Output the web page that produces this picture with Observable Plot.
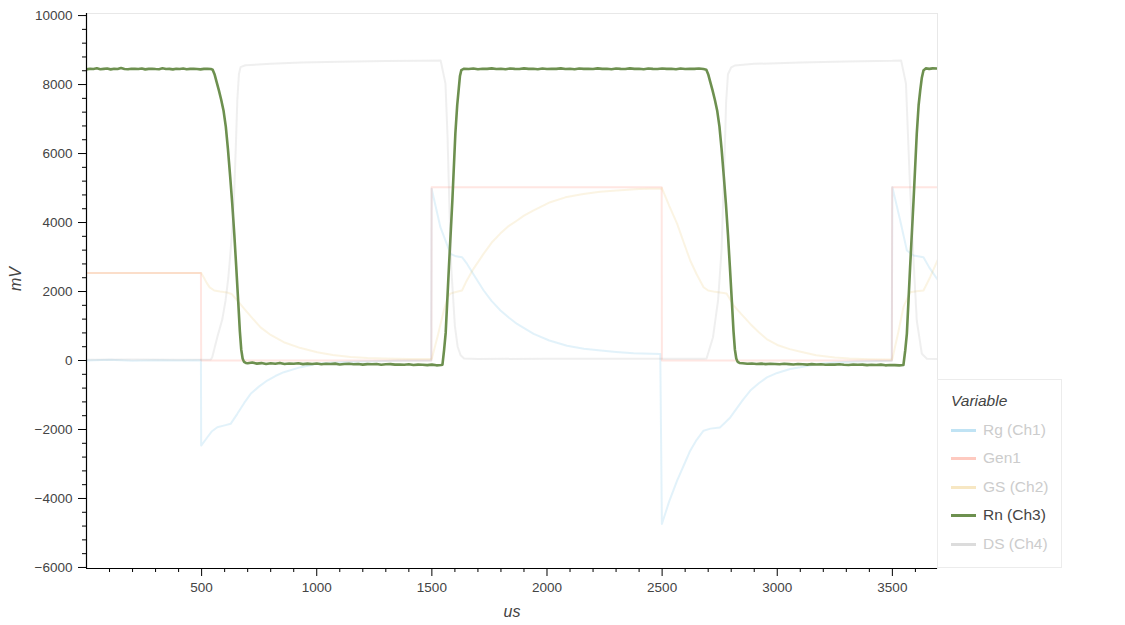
<!DOCTYPE html>
<html>
<head>
<meta charset="utf-8">
<script src="https://cdn.jsdelivr.net/npm/d3@7"></script>
<script src="https://cdn.jsdelivr.net/npm/@observablehq/plot@0.6"></script>
<style>
  html, body { margin: 0; padding: 0; background: #fff; }
  #wrap { position: relative; width: 1125px; height: 625px; font-family: "Liberation Sans", Arial, Helvetica, sans-serif; }
  #legend { position: absolute; left: 937px; top: 379px; width: 125px; height: 189px; border: 1px solid #ececec; background: #fff; box-sizing: border-box; }
  #legend .title { position: absolute; left: 13px; top: 12px; font-style: italic; font-size: 15.5px; color: #444; }
  #legend .row { position: absolute; left: 13px; height: 20px; display: flex; align-items: center; font-size: 15.5px; }
  #legend .sw { width: 25px; height: 0; margin-right: 7px; }
</style>
</head>
<body>
<div id="wrap"></div>
<script>
// ---- data (time in us, value in mV) ----
const seriesNames = ["Rg (Ch1)", "Gen1", "GS (Ch2)", "Rn (Ch3)", "DS (Ch4)"];
const seriesColors = ["#30a2da", "#fc4f30", "#e5ae38", "#6d904f", "#8b8b8b"];
const seriesActive = [false, false, false, true, false];

const xMajorTicks = [500, 1000, 1500, 2000, 2500, 3000, 3500];
const yMajorTicks = [-6000, -4000, -2000, 0, 2000, 4000, 6000, 8000, 10000];

const rg = [[0,0],[100,20],[200,-10],[300,10],[400,0],[497,5],[498,-2465],[525,-2225],[545,-2050],[568,-1934],[600,-1880],[626,-1836],[655,-1546],[685,-1230],[713,-966],[750,-750],[785,-580],[820,-450],[857,-339],[930,-193],[1002,-97],[1070,-60],[1147,-39],[1250,-20],[1350,-10],[1497,0],
  [1499,4980],[1537,3865],[1581,3090],[1605,3020],[1631,2995],[1653,2800],[1690,2400],[1725,2030],[1760,1720],[1798,1450],[1835,1240],[1870,1060],[1942,770],[2010,580],[2087,430],[2160,340],[2234,290],[2300,250],[2376,210],[2492,190],
  [2499,-4740],[2530,-4100],[2565,-3480],[2600,-2950],[2622,-2615],[2650,-2300],[2680,-2035],[2710,-1975],[2751,-1940],[2775,-1790],[2796,-1650],[2810,-1520],[2850,-1150],[2883,-870],[2920,-660],[2955,-490],[3000,-360],[3056,-245],[3100,-195],[3172,-100],[3250,-60],[3350,-30],[3497,-10],
  [3500,5026],[3534,4060],[3563,3190],[3592,3045],[3635,2995],[3660,2700],[3696,2350]];

const gen1 = [[0,2540],[497,2540],[498,0],[1498,0],[1499,5020],[2498,5020],[2499,0],[3498,0],[3499,5020],[3696,5020]];

const gs = [[0,2540],[498,2540],[510,2400],[522,2250],[535,2120],[555,2030],[580,2000],[610,1970],[630,1930],[650,1780],[670,1620],[690,1460],[720,1230],[756,960],[800,740],[857,530],[930,360],[1002,240],[1070,160],[1147,100],[1220,70],[1292,55],[1400,45],[1497,45],
  [1500,60],[1525,700],[1552,1450],[1570,1850],[1580,1940],[1600,1980],[1631,2030],[1650,2300],[1680,2650],[1725,3100],[1760,3420],[1797,3680],[1830,3880],[1870,4060],[1900,4200],[1942,4350],[2014,4590],[2080,4730],[2158,4830],[2230,4890],[2303,4930],[2400,4970],[2497,4990],
  [2499,5000],[2530,4500],[2565,3970],[2595,3400],[2622,2900],[2650,2500],[2680,2125],[2700,2030],[2730,1990],[2751,1970],[2780,1940],[2810,1600],[2850,1300],[2883,1060],[2920,820],[2954,620],[3000,450],[3054,330],[3097,260],[3169,150],[3250,90],[3314,60],[3400,40],[3497,30],
  [3500,50],[3525,800],[3548,1545],[3577,1980],[3605,2010],[3635,2030],[3664,2415],[3696,2900]];

const rn = [[0,8440],[15,8460],[30,8450],[45,8470],[60,8445],[75,8455],[90,8465],[105,8440],[120,8460],[135,8450],[150,8480],[165,8450],[180,8445],[195,8460],[210,8455],[225,8450],[240,8465],[255,8440],[270,8455],[285,8460],[300,8450],[315,8445],[330,8470],[345,8450],[360,8455],[375,8440],[390,8460],[405,8450],[420,8465],[435,8445],[450,8455],[465,8460],[480,8450],[495,8440],[510,8455],[525,8460],[540,8450],
  [548,8430],[556,8300],[565,8080],[575,7830],[585,7560],[595,7250],[605,6780],[614,6150],[624,5330],[633,4550],[642,3650],[650,2750],[659,1700],[666,850],[672,320],[678,60],[684,-40],[692,-70],
  [700,-80],[720,-60],[740,-90],[760,-75],[780,-100],[800,-80],[820,-95],[840,-70],[860,-100],[880,-85],[900,-95],[920,-80],[940,-105],[960,-90],[980,-100],[1000,-85],[1020,-110],[1040,-95],[1060,-100],[1080,-90],[1100,-115],[1120,-100],[1140,-95],[1160,-110],[1180,-100],[1200,-120],[1220,-105],[1240,-110],[1260,-100],[1280,-125],[1300,-110],[1320,-105],[1340,-120],[1360,-115],[1380,-125],[1400,-110],[1420,-130],[1440,-120],[1460,-125],[1480,-135],[1500,-120],[1520,-140],[1540,-130],
  [1546,-120],[1553,300],[1560,800],[1574,2700],[1589,4640],[1602,6580],[1610,7400],[1617,7900],[1622,8250],[1628,8420],[1640,8460],
  [1660,8450],[1680,8465],[1700,8445],[1720,8460],[1740,8455],[1760,8470],[1780,8450],[1800,8460],[1820,8445],[1840,8465],[1860,8455],[1880,8450],[1900,8470],[1920,8455],[1940,8460],[1960,8445],[1980,8465],[2000,8450],[2020,8460],[2040,8455],[2060,8470],[2080,8450],[2100,8460],[2120,8445],[2140,8465],[2160,8455],[2180,8460],[2200,8450],[2220,8470],[2240,8455],[2260,8460],[2280,8445],[2300,8465],[2320,8455],[2340,8450],[2360,8470],[2380,8455],[2400,8460],[2420,8445],[2440,8465],[2460,8455],[2480,8450],[2500,8465],[2520,8455],[2540,8460],[2560,8445],[2580,8465],[2600,8450],[2620,8460],[2640,8455],[2660,8465],[2680,8450],
  [2692,8430],[2700,8300],[2709,8080],[2719,7830],[2729,7560],[2739,7250],[2749,6780],[2758,6150],[2768,5330],[2777,4550],[2786,3650],[2794,2750],[2803,1700],[2810,850],[2816,320],[2822,60],[2828,-40],[2836,-70],
  [2850,-80],[2870,-95],[2890,-85],[2910,-100],[2930,-90],[2950,-105],[2970,-95],[2990,-100],[3010,-110],[3030,-95],[3050,-105],[3070,-115],[3090,-100],[3110,-110],[3130,-120],[3150,-105],[3170,-115],[3190,-110],[3210,-125],[3230,-115],[3250,-120],[3270,-110],[3290,-125],[3310,-130],[3330,-115],[3350,-125],[3370,-120],[3390,-135],[3410,-125],[3430,-130],[3450,-120],[3470,-140],[3490,-130],[3510,-135],[3530,-140],
  [3548,-130],[3556,300],[3563,780],[3577,2700],[3592,4640],[3606,6580],[3614,7400],[3621,7830],[3628,8200],[3635,8410],[3645,8470],[3660,8455],[3675,8470],[3696,8465]];

const ds = [[0,20],[200,30],[400,20],[540,30],[546,95],[568,676],[590,1200],[604,1740],[616,2400],[626,3190],[634,3900],[640,4640],[648,6090],[655,7540],[662,8300],[669,8505],[690,8560],[800,8600],[932,8640],[1100,8660],[1300,8680],[1450,8690],[1538,8700],
  [1559,8030],[1568,6500],[1576,4500],[1584,2700],[1600,1000],[1612,400],[1625,150],[1640,60],[1700,45],[2000,50],[2400,50],[2680,50],
  [2693,60],[2721,676],[2743,1740],[2758,3190],[2765,4640],[2772,6090],[2778,7500],[2786,8300],[2800,8500],[2815,8550],[2900,8600],[3100,8640],[3300,8670],[3500,8690],[3538,8700],
  [3559,8030],[3568,6500],[3577,5000],[3592,2900],[3606,1160],[3628,194],[3650,49],[3696,40]];

const seriesData = [rg, gen1, gs, rn, ds];

// build long table
const table = [];
seriesData.forEach((arr, i) => arr.forEach(([t, v]) => table.push({t, v, s: seriesNames[i]})));

const xMinorTicks = d3.range(100, 3700, 100).filter(d => d % 500 !== 0);
const yMinorTicks = d3.range(-6000, 10001, 400).filter(d => d % 2000 !== 0);

const fmt = d3.format("d");
const font = "'Liberation Sans', Arial, Helvetica, sans-serif";

const lineMarks = seriesNames.map((name, i) =>
  Plot.line(table.filter(d => d.s === name), {
    x: "t", y: "v",
    stroke: seriesColors[i],
    strokeOpacity: seriesActive[i] ? 1 : 0.14,
    strokeWidth: seriesActive[i] ? 2.6 : 2,
    strokeLinejoin: "round",
    clip: true
  })
);

const chart = Plot.plot({
  width: 1125,
  height: 625,
  marginTop: 13,
  marginBottom: 57,
  marginLeft: 86,
  marginRight: 188,
  x: {domain: [0, 3696]},
  y: {domain: [-6030, 10060]},
  style: {fontFamily: font, fontSize: "13px", color: "#444", background: "#fff"},
  marks: [
    Plot.frame({stroke: "#e8e8e8"}),
    ...lineMarks,
    Plot.axisX({ticks: xMinorTicks, tickSize: 4, tickFormat: () => "", label: null, stroke: "#000"}),
    Plot.axisX({ticks: xMajorTicks, tickSize: 8, tickPadding: 6, tickFormat: fmt, label: null, stroke: "#000", fill: "#444", fontSize: 13.5}),
    Plot.axisY({ticks: yMinorTicks, tickSize: 4, tickFormat: () => "", label: null, stroke: "#000"}),
    Plot.axisY({ticks: yMajorTicks, tickSize: 8, tickPadding: 6, tickFormat: fmt, label: null, stroke: "#000", fill: "#444", fontSize: 13.5}),
    Plot.ruleX([0], {stroke: "#000", strokeWidth: 1.2}),
    Plot.ruleY([-6030], {stroke: "#000", strokeWidth: 1.2}),
    Plot.text(["mV"], {text: d => d, frameAnchor: "left", dx: -71, rotate: -90, fontStyle: "italic", fontSize: 16, fill: "#444"}),
    Plot.text(["us"], {text: d => d, frameAnchor: "bottom", dy: 48, fontStyle: "italic", fontSize: 16, fill: "#444"})
  ]
});

const wrap = document.getElementById("wrap");
wrap.appendChild(chart);

// legend
const legend = document.createElement("div");
legend.id = "legend";
const title = document.createElement("div");
title.className = "title";
title.textContent = "Variable";
legend.appendChild(title);
const rowTops = [40, 68, 97, 125, 154];
seriesNames.forEach((name, i) => {
  const row = document.createElement("div");
  row.className = "row";
  row.style.top = rowTops[i] + "px";
  const sw = document.createElement("div");
  sw.className = "sw";
  sw.style.borderTop = "3px solid " + seriesColors[i];
  sw.style.opacity = seriesActive[i] ? 1 : 0.3;
  const lab = document.createElement("span");
  lab.textContent = name;
  lab.style.color = seriesActive[i] ? "#444" : "#cccccc";
  row.appendChild(sw);
  row.appendChild(lab);
  legend.appendChild(row);
});
wrap.appendChild(legend);
</script>
</body>
</html>
